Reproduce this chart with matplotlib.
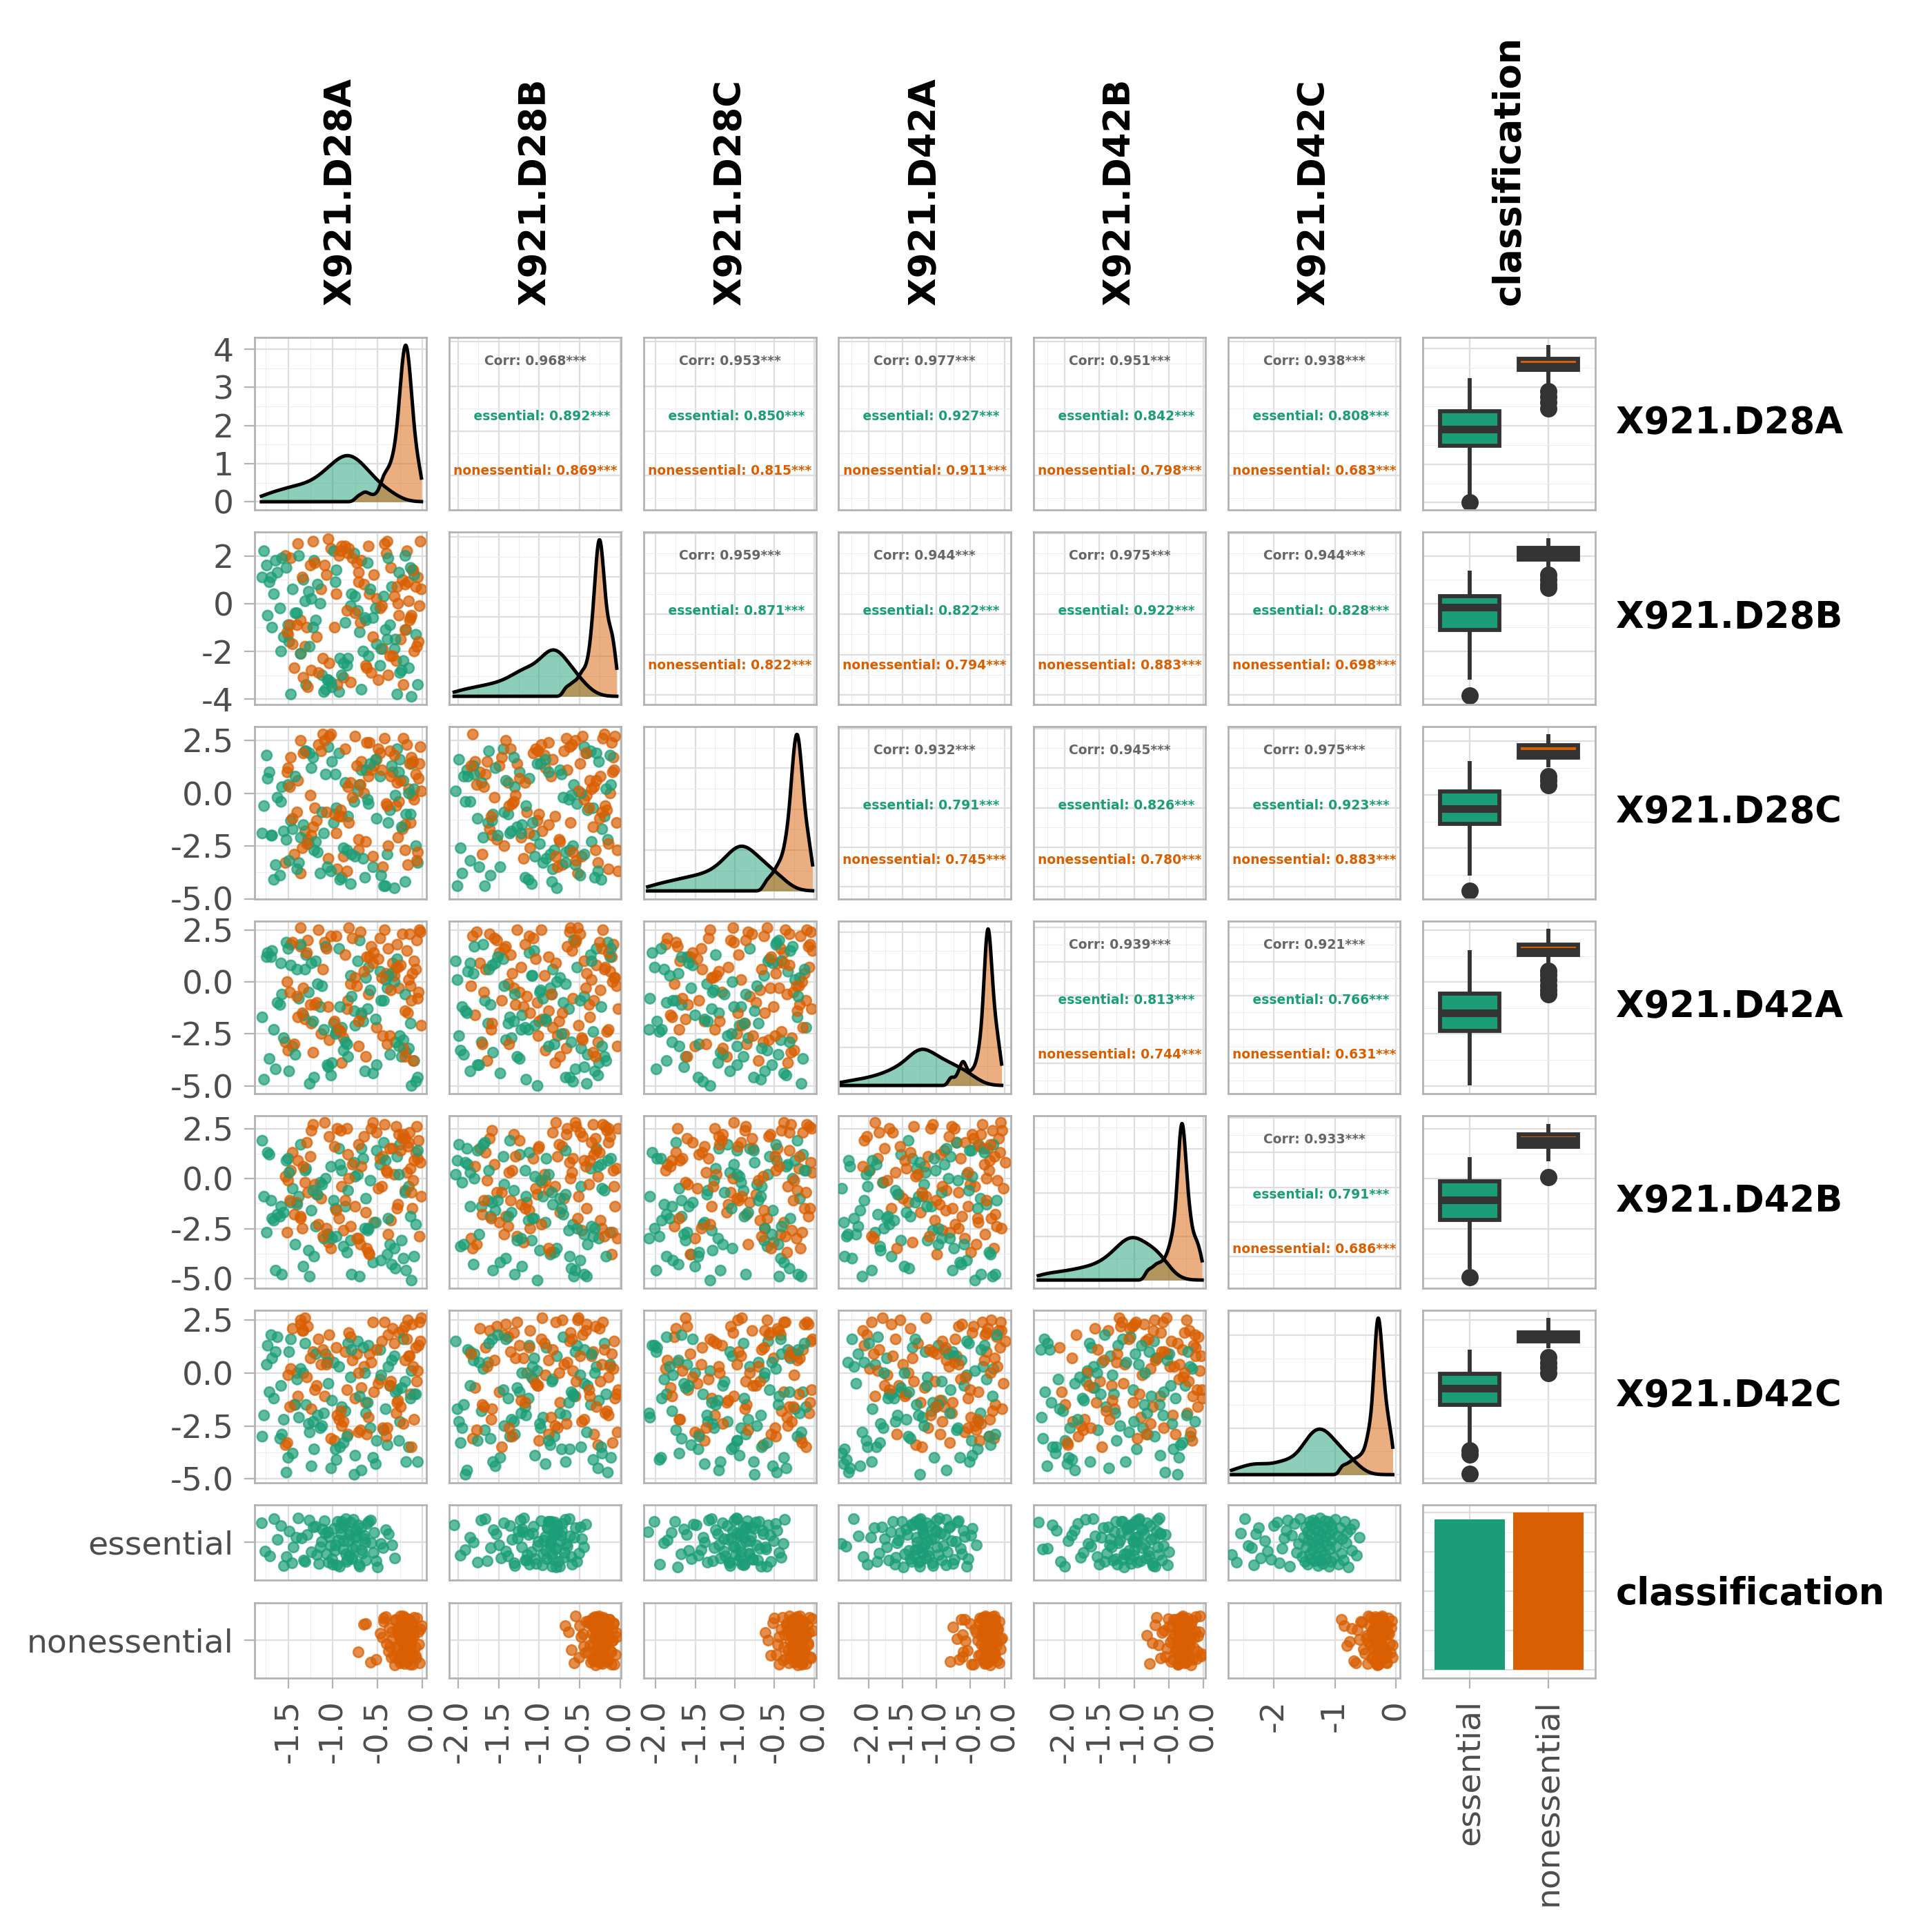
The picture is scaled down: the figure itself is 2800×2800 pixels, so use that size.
import numpy as np
import matplotlib
matplotlib.use("Agg")
import matplotlib.pyplot as plt

plt.rcParams["axes.unicode_minus"] = False
plt.rcParams["font.family"] = ["DejaVu Sans"]

variables = ["X921.D28A", "X921.D28B", "X921.D28C", "X921.D42A", "X921.D42B", "X921.D42C"]
classes = ["essential", "nonessential"]
class_colors = ["#1B9E77", "#D95F02"]

# ---- scatter values (lower triangle): x values per column variable ----
sx_d28a_ess = [-1.21, -0.47, -1.66, -0.93, -0.18, -1.38, -0.72, -1.05, -1.79, -0.31,
               -0.86, -1.52, -0.12, -1.14, -0.60, -1.71, -0.39, -0.99, -1.30, -0.55,
               -1.62, -0.25, -0.80, -1.45, -1.08, -0.07, -1.57, -0.66, -1.24, -0.36,
               -0.90, -1.74, -0.51, -1.17, -0.21, -1.40, -0.76, -1.01, -1.68, -0.43,
               -0.15, -1.33, -0.63, -1.49, -0.96, -0.28, -1.27, -0.83, -1.59, -0.70,
               -1.55, -0.34, -1.02, -0.61, -1.73, -0.88, -0.19, -1.26, -1.47, -0.75,
               -0.09, -1.36, -0.52, -1.12, -1.64, -0.41, -0.97, -0.23, -1.19, -0.68,
               -1.77, -0.46, -1.31, -0.84, -0.13, -1.50, -1.06, -0.58, -0.30, -1.69,
               -0.92, -1.42, -0.38, -0.05, -1.22, -0.79, -1.58, -0.26, -1.10, -0.64]
sx_d28a_non = [-0.42, -1.18, -0.07, -0.88, -1.47, -0.26, -0.63, -1.02, -0.15, -1.31,
               -0.54, -0.95, -0.02, -1.40, -0.71, -0.33, -1.09, -0.19, -0.80, -1.53,
               -0.47, -0.11, -1.24, -0.59, -0.90, -0.04, -1.36, -0.68, -0.29, -1.13,
               -0.38, -0.83, -1.50, -0.22, -0.75, -1.05, -0.09, -0.51, -1.28, -0.35,
               -0.98, -0.17, -1.43, -0.65, -0.03, -1.20, -0.44, -0.86, -0.13, -0.57,
               -1.34, -0.24,
               -0.31, -0.91, -1.36, -0.05, -0.69, -1.22, -0.49, -0.16, -1.51, -0.78,
               -1.04, -0.27, -0.60, -1.45, -0.10, -0.84, -1.16, -0.40, -0.01, -1.29,
               -0.73, -0.21, -0.96, -1.39, -0.55, -0.12, -1.07, -0.36, -0.82, -1.48,
               -0.19, -0.62, -1.25, -0.45, -0.06, -0.93, -1.33, -0.28, -0.71, -1.11,
               -0.39, -0.14]
sx_d28b_ess = [-0.62, -1.88, -1.13, -0.29, -1.57, -0.95, -2.03, -0.44, -1.36, -0.78,
               -1.71, -0.15, -1.02, -1.95, -0.53, -1.24, -0.86, -1.63, -0.36, -1.48,
               -0.70, -1.99, -1.09, -0.22, -1.80, -0.58, -1.30, -0.91, -1.54, -0.40,
               -1.17, -0.12, -1.76, -0.67, -1.41, -0.83, -1.91, -0.26, -1.06, -1.67,
               -0.48, -1.21, -0.74, -1.85, -0.33, -1.44, -0.99, -0.19, -1.60, -0.57,
               -1.34, -1.81, -0.27, -0.63, -1.12, -1.97, -0.84, -0.41, -1.58, -1.05,
               -0.17, -1.69, -0.92, -1.43, -0.55, -2.01, -0.72, -1.27, -0.35, -1.89,
               -1.16, -0.49, -1.62, -0.81, -1.38, -0.11, -1.74, -0.98, -0.60, -1.51,
               -0.23, -1.93, -1.08, -0.67, -1.31, -0.44, -1.85, -0.88, -1.22, -0.31]
sx_d28b_non = [-0.21, -1.02, -1.66, -0.47, -0.08, -1.31, -0.74, -1.82, -0.35, -0.96,
               -1.49, -0.14, -0.62, -1.15, -0.03, -1.73, -0.55, -0.88, -1.38, -0.27,
               -1.07, -0.41, -1.58, -0.10, -0.80, -1.24, -0.52, -1.79, -0.18, -0.69,
               -1.43, -0.32, -0.92, -1.61, -0.06, -1.19, -0.44, -0.83, -1.52, -0.24,
               -1.00, -0.59, -1.70, -0.12, -1.27, -0.38, -0.77, -1.35, -0.04, -0.65,
               -1.11, -0.29,
               -0.93, -0.16, -1.41, -0.58, -1.77, -0.33, -1.04, -0.71, -0.09, -1.55,
               -0.46, -1.22, -0.85, -0.25, -1.64, -0.02, -0.97, -1.33, -0.51, -0.14,
               -1.84, -0.66, -1.12, -0.37, -0.79, -1.46, -0.22, -1.01, -0.61, -1.68,
               -0.30, -0.88, -1.29, -0.07, -0.54, -1.59, -0.42, -1.17, -0.75, -0.19,
               -1.37, -0.49]
sx_d28c_ess = [-1.46, -0.33, -1.92, -0.81, -1.18, -2.07, -0.58, -1.64, -0.21, -1.03,
               -1.79, -0.47, -1.31, -0.92, -2.01, -0.14, -1.55, -0.70, -1.24, -0.38,
               -1.86, -1.09, -0.63, -1.70, -0.27, -1.40, -0.86, -1.98, -0.52, -1.15,
               -0.10, -1.60, -0.97, -1.35, -0.42, -1.89, -0.75, -1.21, -0.30, -1.74,
               -0.66, -1.50, -0.18, -1.06, -1.95, -0.56, -1.28, -0.89, -1.67, -0.44,
               -0.83, -1.71, -0.35, -1.29, -2.04, -0.59, -1.13, -0.16, -1.53, -0.94,
               -1.86, -0.48, -1.38, -0.72, -1.99, -0.24, -1.04, -1.62, -0.41, -1.20,
               -0.67, -1.78, -0.12, -1.45, -0.88, -1.93, -0.53, -1.26, -0.31, -1.67,
               -1.01, -0.45, -1.82, -0.76, -1.34, -0.20, -1.58, -0.97, -2.08, -0.62]
sx_d28c_non = [-0.09, -0.73, -1.41, -0.28, -1.87, -0.55, -1.10, -0.17, -0.92, -1.62,
               -0.38, -1.25, -0.04, -0.81, -1.50, -0.46, -1.01, -0.21, -1.76, -0.64,
               -1.33, -0.12, -0.87, -1.56, -0.33, -1.16, -0.59, -1.81, -0.06, -0.97,
               -0.42, -1.45, -0.25, -0.78, -1.29, -0.51, -1.69, -0.14, -1.05, -0.68,
               -1.38, -0.02, -0.85, -1.20, -0.36, -1.59, -0.49, -0.95, -0.19, -1.72,
               -0.62, -0.31,
               -1.23, -0.41, -0.07, -1.66, -0.83, -0.29, -1.47, -0.96, -0.15, -1.85,
               -0.57, -1.08, -0.34, -1.74, -0.70, -0.03, -1.31, -0.48, -0.91, -1.53,
               -0.22, -1.15, -0.63, -1.79, -0.38, -0.10, -1.42, -0.77, -1.02, -0.26,
               -1.60, -0.54, -0.18, -1.27, -0.86, -1.70, -0.44, -0.05, -1.19, -0.66,
               -1.36, -0.31]
sx_d42a_ess = [-2.35, -0.88, -1.62, -0.31, -1.95, -1.20, -0.55, -2.18, -1.41, -0.74,
               -1.07, -2.29, -0.43, -1.78, -0.97, -1.52, -0.20, -2.06, -1.29, -0.65,
               -1.86, -0.38, -1.13, -2.39, -0.82, -1.69, -0.13, -1.35, -2.12, -0.59,
               -1.01, -1.90, -0.48, -1.57, -2.24, -0.26, -1.24, -0.92, -1.73, -0.70,
               -2.01, -1.47, -0.35, -1.16, -2.32, -0.79, -1.82, -0.52, -1.38, -0.17,
               -1.44, -0.63, -2.27, -1.05, -0.29, -1.83, -0.92, -2.09, -1.31, -0.47,
               -1.66, -0.16, -2.36, -1.18, -0.76, -1.94, -0.39, -1.52, -2.15, -0.85,
               -1.26, -0.55, -1.99, -0.22, -1.71, -1.03, -2.30, -0.68, -1.40, -0.11,
               -1.88, -0.97, -2.21, -0.51, -1.60, -0.34, -1.14, -2.03, -0.80, -1.77]
sx_d42a_non = [-0.32, -1.55, -0.06, -0.91, -1.98, -0.47, -1.23, -0.15, -0.70, -1.79,
               -0.38, -1.08, 0.02, -1.41, -0.58, -0.24, -1.90, -0.85, -0.11, -1.30,
               -0.64, -1.66, -0.03, -0.99, -0.43, -2.06, -0.19, -1.17, -0.77, -1.49,
               -0.28, -0.94, -1.72, -0.08, -0.53, -1.35, -0.21, -1.84, -0.67, -1.02,
               -0.36, -1.60, -0.13, -0.81, -1.95, -0.50, -1.12, -0.26, -1.44, -0.73,
               -0.04, -0.88,
               -1.27, -0.17, -0.62, -1.86, -0.41, -1.05, -0.01, -1.53, -0.80, -0.29,
               -2.02, -0.95, -0.49, -1.38, -0.10, -1.69, -0.72, -0.22, -1.15, -0.57,
               -1.92, -0.34, -0.86, -1.46, -0.05, -1.21, -0.67, -1.76, -0.26, -1.00,
               -0.45, -1.58, -0.14, -0.91, -1.33, -0.39, -2.08, -0.76, -0.20, -1.10,
               -0.53, -1.64]
sx_d42b_ess = [-0.96, -2.21, -0.40, -1.58, -1.12, -2.33, -0.71, -1.85, -0.19, -1.34,
               -2.02, -0.55, -1.67, -0.87, -1.23, -2.28, -0.33, -1.46, -0.63, -1.94,
               -1.05, -0.12, -1.78, -2.13, -0.49, -1.29, -0.80, -1.61, -2.25, -0.26,
               -1.40, -0.93, -1.99, -0.58, -1.16, -2.09, -0.37, -1.72, -0.68, -1.52,
               -2.17, -0.84, -1.27, -0.22, -1.89, -1.01, -0.45, -1.64, -2.31, -0.75,
               -1.81, -0.52, -1.36, -2.19, -0.89, -0.30, -1.69, -1.07, -2.29, -0.62,
               -1.48, -0.16, -1.96, -1.20, -0.78, -2.07, -0.43, -1.57, -0.98, -1.85,
               -0.24, -1.31, -2.24, -0.70, -1.74, -0.35, -1.11, -1.92, -0.57, -1.42,
               -2.12, -0.85, -0.19, -1.63, -1.00, -2.34, -0.47, -1.25, -0.81, -1.53]
sx_d42b_non = [-0.58, -1.32, -0.11, -1.88, -0.76, -0.27, -1.54, -0.95, -0.03, -1.21,
               -2.04, -0.44, -0.83, -1.67, -0.18, -1.06, -0.62, -1.43, -0.07, -1.95,
               -0.35, -0.99, -1.28, -0.52, -1.76, -0.14, -0.70, -1.59, -0.23, -1.13,
               -1.83, -0.40, -0.88, -1.37, -0.01, -0.66, -1.71, -0.30, -1.02, -1.49,
               -0.16, -0.79, -1.99, -0.48, -1.17, -0.09, -1.62, -0.56, -0.92, -1.25,
               -0.20, -0.73,
               -0.37, -1.40, -0.85, -0.05, -1.73, -0.60, -1.15, -0.24, -1.96, -0.69,
               -0.12, -1.31, -0.90, -1.56, -0.42, -0.02, -1.07, -1.80, -0.53, -0.29,
               -1.24, -0.76, -2.07, -0.15, -0.97, -1.46, -0.34, -1.65, -0.61, -0.08,
               -1.19, -0.82, -1.89, -0.46, -0.21, -1.35, -0.72, -1.01, -0.27, -1.52,
               -0.57, -0.11]

# ---- scatter values: y values per row variable ----
sy_d28b_ess = [1.8, -2.6, 0.4, -3.7, -1.1, 2.0, -0.3, -3.2, 1.1, -1.9,
               -0.8, 1.5, -3.9, 0.0, -2.2, 0.9, -1.5, 2.2, -3.4, -0.6,
               1.3, -2.9, -0.1, 0.6, -3.6, -1.3, 1.9, -2.0, 0.2, -0.9,
               -3.0, 1.6, -1.7, 0.8, -2.4, -0.4, 2.1, -3.5, -1.0, 0.3,
               -2.7, 1.0, -0.7, -1.6, 1.4, -3.8, 0.5, -2.3, -0.2, -1.2,
               -1.4, 0.7, -3.3, 1.7, -0.5, -2.5, 2.0, -1.8, -3.8, 0.3,
               1.2, -2.1, -0.2, -3.0, 1.8, -1.1, 0.9, -2.8, -0.7, -3.6,
               2.2, -1.9, 0.1, -2.6, 1.5, -0.9, -3.2, 0.6, -1.5, 1.1,
               -2.3, -0.4, 1.9, -3.4, -1.0, 0.4, -2.0, 1.3, -3.7, -0.6]
sy_d28b_non = [2.5, -1.4, 0.7, -3.1, 1.9, -0.5, -2.6, 2.3, 0.1, -1.8,
               1.2, -3.4, 2.6, -0.9, 0.9, -2.2, 1.6, -1.1, -3.3, 2.0,
               -0.2, 1.4, -2.8, 0.4, 2.4, -1.6, -0.7, 1.8, -2.4, 0.6,
               -3.0, 2.1, -1.3, 1.0, -0.4, 2.7, -2.0, 0.2, -3.5, 1.5,
               -1.0, 2.2, -2.7, 0.8, -0.1, 1.7, -1.9, 2.4, -0.6, -2.9,
               1.1, -1.5,
               0.3, 2.2, -2.1, 1.1, -0.8, 2.6, -3.2, 0.9, -1.2, 1.9,
               -2.5, 0.0, 2.4, -1.7, 1.4, -0.3, -2.9, 2.1, 0.6, -1.0,
               1.7, -3.4, 0.4, 2.5, -1.4, -0.5, 1.2, -2.2, 2.3, -0.9,
               0.8, -2.7, 1.6, -0.1, -1.8, 2.0, -3.1, 0.7, 1.3, -2.3,
               2.6, -0.7]
sy_d28c_ess = [-2.7, 0.8, -4.1, 1.9, -1.0, -3.3, 0.1, 2.2, -1.9, -4.5,
               0.5, -2.2, 1.4, -3.8, -0.5, 1.0, -2.9, -1.4, 2.0, -3.5,
               -0.2, 1.6, -4.3, -1.7, 0.9, -2.5, 0.3, -3.1, 1.2, -0.8,
               -4.0, 1.8, -1.2, -2.8, 0.6, -3.6, -0.4, 1.5, -2.0, -4.4,
               0.0, -1.5, 1.1, -3.2, -0.7, 2.1, -2.4, -1.1, -3.9, 0.4,
               -1.8, 1.3, -3.7, -0.3, 0.7, -2.6, -4.2, 1.9, -1.3, -3.0,
               0.2, -2.1, 1.6, -0.9, -3.4, -4.4, 0.9, -1.6, -2.3, 1.1,
               -0.6, -3.9, 2.0, -2.7, -1.0, 0.4, -3.5, 1.4, -0.1, -2.0,
               -4.1, 0.8, -1.4, -3.3, 1.7, -2.9, -0.4, 1.0, -1.9, -4.0]
sy_d28c_non = [2.6, -1.3, 0.9, -3.0, 1.7, -0.4, -2.3, 2.8, 0.2, -1.8,
               1.3, -3.6, 2.2, -0.9, -2.7, 1.0, 2.5, -1.5, 0.5, -3.3,
               1.9, -0.1, -2.0, 2.4, -1.1, 0.7, -3.8, 1.5, -0.6, 2.0,
               -2.5, 0.3, 1.2, -1.7, 2.7, -3.1, -0.3, 1.6, -2.2, 0.8,
               -1.0, 2.3, -2.9, 0.0, 1.4, -0.7, -3.5, 2.1, -1.4, 1.1,
               -2.6, 0.6,
               1.8, -0.8, 2.5, -2.8, 0.4, -1.6, 2.1, -3.4, 1.0, -0.2,
               2.7, -2.1, 0.8, -1.2, 1.5, -3.7, 2.3, -0.5, 0.1, -2.4,
               1.3, 2.6, -1.9, 0.6, -3.0, 1.7, -0.9, 2.0, -1.4, 0.3,
               -2.7, 2.4, -0.1, 1.1, -3.2, -1.1, 1.9, 0.5, -2.2, 2.8,
               -0.6, 1.4]
sy_d42a_ess = [-4.6, 0.5, -2.3, 1.6, -3.4, -0.8, 1.0, -4.1, -1.7, 0.0,
               -2.9, 1.9, -5.0, -1.2, 0.7, -3.7, -0.3, -2.0, 1.3, -4.4,
               -1.0, -2.6, 0.3, -3.1, 1.7, -4.8, -0.6, -1.9, 0.9, -3.5,
               -2.2, 1.2, -4.0, -0.1, -2.8, 0.6, -1.4, -3.9, 1.5, -0.9,
               -3.2, -1.6, 0.2, -4.3, -2.4, 1.1, -0.5, -3.6, -1.1, 2.0,
               -2.7, 0.4, -4.5, -1.3, 1.4, -3.3, -0.6, -4.9, 0.8, -2.1,
               -3.8, 1.8, -1.8, -0.2, -4.2, 0.1, -2.5, -3.6, 1.0, -1.5,
               -4.7, -0.9, 0.6, -3.0, -2.0, 1.6, -4.0, -0.4, -2.9, 1.2,
               -1.2, -3.5, 0.3, -4.6, -1.9, -0.7, 0.9, -3.1, -2.3, -4.3]
sy_d42a_non = [2.5, -1.0, 0.6, -2.7, 1.8, -0.3, -3.6, 2.2, 0.1, -1.8,
               1.4, -2.3, 2.4, -0.7, -3.1, 0.9, 1.9, -1.4, -0.1, -2.9,
               2.1, 0.4, -2.0, 1.2, -3.9, -0.5, 2.6, -1.6, 0.7, -2.5,
               1.6, -0.9, -3.3, 2.3, 0.2, -1.2, 1.0, -2.2, 2.0, -0.4,
               -1.9, 1.5, -3.0, 0.5, 2.5, -1.1, -2.6, 1.3, -0.2, 1.7,
               -1.5, 0.8,
               0.3, -2.4, 1.7, -0.8, 2.4, -3.4, 1.1, -1.5, 0.0, 2.1,
               -2.8, 0.7, -0.6, 1.9, -3.8, -1.3, 2.5, 0.4, -2.1, 1.4,
               -0.2, -3.2, 2.2, -1.7, 0.9, -0.9, 1.6, -2.6, 2.6, -0.5,
               -3.6, 1.2, -1.1, 0.2, 2.0, -2.3, -0.3, 1.8, -1.9, 0.6,
               -3.0, 2.3]
sy_d42b_ess = [-3.9, 0.7, -2.1, 1.5, -4.6, -0.9, 0.2, -2.8, 1.9, -3.5,
               -1.4, 0.9, -5.1, -0.2, -2.5, 1.2, -3.8, -1.1, 0.5, -4.2,
               -1.8, 1.7, -3.1, -0.5, 0.0, -2.3, -4.8, 1.0, -1.6, -3.3,
               0.4, -2.7, 1.4, -0.8, -4.0, -1.3, 0.8, -3.0, -2.0, 1.8,
               -0.4, -4.4, -1.0, 0.3, -2.9, 1.1, -3.6, -0.6, -1.9, -4.9,
               -1.7, -4.3, 0.6, -2.6, 1.3, -3.4, -0.7, -4.9, -1.2, 0.1,
               -3.9, 1.7, -2.2, -0.3, -4.6, 0.9, -1.5, -3.1, -2.4, 1.5,
               -0.9, -4.1, 0.4, -3.7, -1.9, 1.0, -2.8, -0.1, -4.5, -1.1,
               0.7, -3.3, -2.0, 1.4, -0.6, -4.8, -1.4, 0.2, -3.0, -2.5]
sy_d42b_non = [2.7, -0.8, 1.3, -2.6, 0.4, 2.2, -1.7, -3.5, 1.8, -0.2,
               -2.2, 2.5, 0.8, -1.2, -3.0, 1.5, 2.8, -0.6, -2.4, 0.1,
               1.0, -1.5, 2.4, -3.8, -0.4, 1.9, -2.0, 0.6, 2.6, -1.0,
               -2.8, 1.2, -0.1, 2.0, -1.4, -3.2, 0.9, 2.3, -0.7, -2.1,
               1.6, 0.3, -1.8, 2.1, -2.9, -0.3, 1.1, -1.1, 0.5, 2.5,
               -2.5, 1.4,
               0.2, 2.4, -1.9, 1.0, -3.3, 2.7, -0.5, 1.6, -2.7, 0.7,
               2.1, -1.3, -3.7, 1.3, -0.1, 2.5, -2.3, 0.4, -0.9, 1.8,
               -3.0, 2.2, -1.6, 0.9, 2.8, -0.7, -2.5, 1.5, 0.0, -1.1,
               2.0, -3.5, 1.1, -0.4, 2.6, -2.0, 0.6, -1.5, 1.7, -2.9,
               0.3, 2.3]
sy_d42c_ess = [-3.6, 1.1, -1.2, 0.3, -4.2, -2.1, 1.5, -0.5, -3.0, 0.8,
               -1.8, -4.7, 0.1, -2.6, 1.3, -0.9, -3.4, 0.5, -1.5, -4.0,
               1.7, -2.3, -0.2, -3.8, 0.9, -1.0, -2.9, 1.2, -4.4, -0.6,
               -1.6, 0.4, -3.2, -2.0, 1.6, -0.3, -4.8, -1.3, 0.7, -2.7,
               -3.5, 0.0, -1.9, 1.0, -4.1, -0.8, -2.4, 1.4, -3.1, -1.1,
               -2.2, 0.6, -4.5, -1.4, 1.3, -3.3, -0.4, -2.8, 1.6, -3.9,
               -1.0, 0.2, -4.3, -2.5, 1.0, -1.7, -3.6, -0.7, 0.9, -4.6,
               -2.0, -0.1, 1.4, -3.0, -1.2, -4.0, 0.5, -2.6, -0.9, 1.8,
               -3.5, -1.5, 0.3, -4.2, -2.3, 1.1, -0.6, -3.2, -1.9, 0.0]
sy_d42c_non = [2.4, -0.6, 1.2, -2.3, 0.2, 1.9, -1.4, -3.1, 0.8, 2.6,
               -0.9, -2.0, 1.5, 0.0, -2.8, 2.1, -1.1, 0.6, 1.7, -3.4,
               -0.3, 2.3, -1.7, 0.9, -2.5, 1.3, 2.5, -0.7, -1.9, 0.4,
               1.8, -2.9, -0.1, 2.0, -1.2, 0.7, -2.2, 1.1, 2.2, -0.4,
               -3.2, 1.6, -1.5, 0.3, 2.4, -0.8, -2.6, 1.0, -1.0, 0.5,
               2.0, -1.6,
               1.4, -1.8, 2.3, 0.1, -2.7, 1.0, -0.5, 2.5, -3.3, 0.6,
               1.8, -1.3, -2.1, 2.1, 0.3, -0.8, 1.6, -3.0, 2.6, -0.2,
               0.9, -2.4, 1.2, -1.1, 2.4, -3.5, 0.4, -0.6, 1.9, -1.6,
               2.2, -2.9, 0.7, 1.5, -0.4, -2.2, 2.0, -1.4, 0.0, 1.1,
               -2.6, 0.8]

# ---- per-class values (diagonal densities and bottom facet rows) ----
fx_d28a_ess = [-1.80, -1.71, -1.62, -1.55, -1.49, -1.44, -1.39, -1.33, -1.29, -1.24,
               -1.20, -1.16, -1.13, -1.10, -1.07, -1.04, -1.01, -0.99, -0.97, -0.95,
               -0.93, -0.91, -0.89, -0.87, -0.85, -0.83, -0.81, -0.79, -0.77, -0.75,
               -0.73, -0.71, -0.69, -0.67, -0.65, -0.63, -0.60, -0.57, -0.54, -0.50,
               -1.12, -0.98, -0.90, -0.82, -0.76, -1.05, -0.86, -0.44, -0.38, -0.31,
               -1.76, -1.58, -1.46, -1.35, -1.27, -1.18, -1.09, -1.03, -0.96, -0.92,
               -0.88, -0.84, -0.80, -0.78, -0.74, -0.70, -0.66, -0.62, -0.55, -0.46,
               -1.66, -1.52, -1.41, -1.31, -1.22, -1.14, -1.06, -1.00, -0.94, -0.90,
               -0.86, -0.82, -0.79, -0.72, -0.68, -0.64, -0.58, -0.52, -0.41, -0.34]
fx_d28a_non = [-0.72, -0.63, -0.58, -0.47, -0.43, -0.40, -0.37, -0.35, -0.33, -0.31,
               -0.30, -0.29, -0.28, -0.27, -0.26, -0.25, -0.24, -0.24, -0.23, -0.22,
               -0.22, -0.21, -0.21, -0.20, -0.20, -0.19, -0.19, -0.18, -0.18, -0.17,
               -0.17, -0.16, -0.16, -0.15, -0.15, -0.14, -0.14, -0.13, -0.12, -0.12,
               -0.11, -0.10, -0.09, -0.08, -0.07, -0.05, -0.03, -0.01, -0.26, -0.20,
               -0.18, -0.13,
               -0.66, -0.52, -0.45, -0.41, -0.38, -0.34, -0.32, -0.30, -0.28, -0.27,
               -0.25, -0.24, -0.23, -0.22, -0.21, -0.21, -0.20, -0.19, -0.19, -0.18,
               -0.17, -0.17, -0.16, -0.15, -0.14, -0.13, -0.12, -0.11, -0.10, -0.08,
               -0.06, -0.04, -0.02, -0.23, -0.20, -0.18, -0.16, -0.22, -0.25, -0.14,
               -0.36, -0.43]
fx_d28b_ess = [-2.05, -1.92, -1.81, -1.72, -1.64, -1.57, -1.50, -1.44, -1.39, -1.34,
               -1.30, -1.26, -1.22, -1.19, -1.16, -1.13, -1.10, -1.07, -1.04, -1.01,
               -0.98, -0.95, -0.93, -0.91, -0.89, -0.87, -0.85, -0.84, -0.82, -0.80,
               -0.78, -0.76, -0.74, -0.72, -0.70, -0.68, -0.65, -0.62, -0.59, -0.55,
               -0.51, -0.47, -1.17, -0.88, -0.86, -0.83, -0.79, -1.21, -0.92, -0.42,
               -1.98, -1.86, -1.76, -1.67, -1.60, -1.53, -1.47, -1.41, -1.36, -1.31,
               -1.27, -1.23, -1.15, -1.08, -1.02, -0.96, -0.90, -0.86, -0.83, -0.81,
               -0.79, -0.77, -0.75, -0.73, -0.71, -0.69, -0.66, -0.63, -0.60, -0.57,
               -0.53, -0.49, -0.45, -1.20, -1.12, -0.94, -0.88, -0.84, -0.80, -1.05]
fx_d28b_non = [-0.68, -0.60, -0.55, -0.51, -0.48, -0.45, -0.42, -0.40, -0.38, -0.36,
               -0.35, -0.34, -0.33, -0.32, -0.31, -0.30, -0.30, -0.29, -0.28, -0.28,
               -0.27, -0.27, -0.26, -0.26, -0.25, -0.25, -0.24, -0.24, -0.23, -0.23,
               -0.22, -0.22, -0.21, -0.20, -0.20, -0.19, -0.18, -0.17, -0.16, -0.15,
               -0.14, -0.13, -0.12, -0.11, -0.10, -0.09, -0.08, -0.06, -0.04, -0.29,
               -0.26, -0.21,
               -0.64, -0.57, -0.50, -0.46, -0.43, -0.39, -0.37, -0.35, -0.33, -0.32,
               -0.31, -0.30, -0.29, -0.28, -0.27, -0.27, -0.26, -0.25, -0.25, -0.24,
               -0.24, -0.23, -0.22, -0.21, -0.20, -0.19, -0.18, -0.17, -0.16, -0.14,
               -0.13, -0.11, -0.10, -0.08, -0.07, -0.05, -0.28, -0.26, -0.23, -0.30,
               -0.34, -0.21]
fx_d28c_ess = [-2.10, -1.95, -1.85, -1.76, -1.68, -1.61, -1.55, -1.49, -1.43, -1.38,
               -1.33, -1.28, -1.24, -1.20, -1.16, -1.12, -1.09, -1.06, -1.03, -1.00,
               -0.98, -0.96, -0.94, -0.92, -0.90, -0.88, -0.86, -0.84, -0.82, -0.80,
               -0.78, -0.76, -0.73, -0.70, -0.67, -0.64, -0.61, -0.58, -0.55, -0.51,
               -0.47, -0.42, -0.37, -1.02, -0.95, -0.91, -0.87, -0.83, -1.14, -0.71,
               -2.02, -1.90, -1.80, -1.72, -1.64, -1.58, -1.52, -1.46, -1.40, -1.35,
               -1.30, -1.26, -1.22, -1.18, -1.14, -1.10, -1.07, -1.04, -1.01, -0.99,
               -0.97, -0.93, -0.89, -0.85, -0.81, -0.77, -0.74, -0.69, -0.65, -0.60,
               -0.56, -0.49, -0.44, -0.39, -0.97, -0.93, -0.89, -1.08, -0.79, -0.62]
fx_d28c_non = [-0.62, -0.55, -0.50, -0.46, -0.42, -0.39, -0.37, -0.35, -0.33, -0.31,
               -0.30, -0.29, -0.28, -0.27, -0.26, -0.25, -0.25, -0.24, -0.24, -0.23,
               -0.23, -0.22, -0.22, -0.21, -0.21, -0.20, -0.20, -0.19, -0.19, -0.18,
               -0.18, -0.17, -0.16, -0.15, -0.14, -0.13, -0.12, -0.11, -0.10, -0.09,
               -0.08, -0.07, -0.05, -0.03, -0.26, -0.22, -0.20, -0.17, -0.28, -0.15,
               -0.44, -0.32,
               -0.58, -0.52, -0.48, -0.44, -0.40, -0.38, -0.36, -0.34, -0.32, -0.30,
               -0.29, -0.28, -0.27, -0.26, -0.25, -0.24, -0.23, -0.22, -0.21, -0.20,
               -0.19, -0.18, -0.17, -0.16, -0.15, -0.14, -0.13, -0.12, -0.10, -0.08,
               -0.06, -0.04, -0.02, -0.27, -0.24, -0.22, -0.19, -0.25, -0.21, -0.30,
               -0.35, -0.16]
fx_d42a_ess = [-2.40, -2.22, -2.08, -1.97, -1.88, -1.80, -1.73, -1.67, -1.61, -1.56,
               -1.51, -1.47, -1.43, -1.39, -1.35, -1.32, -1.29, -1.26, -1.23, -1.20,
               -1.17, -1.14, -1.11, -1.08, -1.05, -1.02, -0.99, -0.96, -0.92, -0.88,
               -0.84, -0.80, -0.76, -0.72, -0.68, -0.63, -0.58, -0.53, -0.47, -0.41,
               -1.31, -1.25, -1.19, -1.28, -1.22, -1.37, -1.13, -1.00, -1.60, -0.86,
               -2.33, -2.15, -2.02, -1.92, -1.84, -1.76, -1.70, -1.64, -1.58, -1.53,
               -1.49, -1.45, -1.41, -1.37, -1.33, -1.30, -1.27, -1.24, -1.21, -1.18,
               -1.15, -1.12, -1.09, -1.06, -1.03, -1.00, -0.97, -0.94, -0.90, -0.86,
               -0.82, -0.78, -0.74, -0.70, -0.65, -0.60, -0.55, -0.49, -1.26, -1.20]
fx_d42a_non = [-0.80, -0.70, -0.64, -0.60, -0.57, -0.50, -0.45, -0.41, -0.38, -0.36,
               -0.34, -0.32, -0.31, -0.30, -0.29, -0.28, -0.28, -0.27, -0.27, -0.26,
               -0.26, -0.25, -0.25, -0.24, -0.24, -0.23, -0.23, -0.22, -0.22, -0.21,
               -0.21, -0.20, -0.19, -0.18, -0.17, -0.16, -0.15, -0.14, -0.13, -0.12,
               -0.11, -0.10, -0.08, -0.06, -0.04, -0.29, -0.25, -0.23, -0.20, -0.62,
               -0.33, -0.18,
               -0.76, -0.67, -0.62, -0.58, -0.54, -0.48, -0.43, -0.39, -0.37, -0.35,
               -0.33, -0.31, -0.30, -0.29, -0.28, -0.27, -0.26, -0.25, -0.24, -0.23,
               -0.22, -0.21, -0.20, -0.19, -0.18, -0.17, -0.16, -0.15, -0.14, -0.12,
               -0.10, -0.08, -0.06, -0.27, -0.25, -0.23, -0.22, -0.26, -0.24, -0.21,
               -0.28, -0.20]
fx_d42b_ess = [-2.38, -2.25, -2.12, -2.00, -1.90, -1.81, -1.73, -1.66, -1.59, -1.53,
               -1.47, -1.42, -1.37, -1.32, -1.28, -1.24, -1.20, -1.16, -1.12, -1.09,
               -1.06, -1.03, -1.00, -0.97, -0.94, -0.91, -0.88, -0.85, -0.82, -0.79,
               -0.76, -0.73, -0.68, -0.66, -0.64, -0.60, -0.55, -0.50, -1.10, -1.05,
               -1.01, -0.98, -1.14, -0.95, -1.26, -0.90, -1.35, -1.18, -0.70, -0.62,
               -2.32, -2.18, -2.06, -1.95, -1.86, -1.77, -1.70, -1.62, -1.56, -1.50,
               -1.44, -1.39, -1.34, -1.30, -1.26, -1.22, -1.18, -1.14, -1.11, -1.08,
               -1.04, -1.01, -0.99, -0.96, -0.93, -0.89, -0.86, -0.83, -0.80, -0.77,
               -0.74, -0.71, -0.67, -0.65, -0.63, -0.58, -0.52, -1.07, -1.02, -1.16]
fx_d42b_non = [-0.82, -0.74, -0.68, -0.62, -0.57, -0.53, -0.50, -0.47, -0.45, -0.43,
               -0.41, -0.39, -0.38, -0.37, -0.36, -0.35, -0.34, -0.33, -0.33, -0.32,
               -0.32, -0.31, -0.31, -0.30, -0.30, -0.29, -0.29, -0.28, -0.27, -0.26,
               -0.25, -0.24, -0.23, -0.22, -0.21, -0.20, -0.19, -0.18, -0.16, -0.14,
               -0.12, -0.10, -0.08, -0.05, -0.02, -0.34, -0.31, -0.28, -0.36, -0.26,
               -0.40, -0.22,
               -0.78, -0.70, -0.65, -0.60, -0.55, -0.51, -0.48, -0.46, -0.44, -0.42,
               -0.40, -0.38, -0.37, -0.36, -0.35, -0.34, -0.33, -0.32, -0.31, -0.30,
               -0.29, -0.28, -0.27, -0.26, -0.25, -0.24, -0.22, -0.20, -0.18, -0.16,
               -0.13, -0.11, -0.09, -0.06, -0.03, -0.33, -0.31, -0.29, -0.35, -0.30,
               -0.27, -0.32]
fx_d42c_ess = [-2.70, -2.55, -2.42, -2.33, -2.26, -2.15, -2.05, -1.95, -1.87, -1.80,
               -1.75, -1.71, -1.67, -1.63, -1.60, -1.57, -1.54, -1.52, -1.50, -1.48,
               -1.47, -1.45, -1.45, -1.44, -1.42, -1.42, -1.40, -1.39, -1.39, -1.37,
               -1.36, -1.36, -1.34, -1.33, -1.33, -1.31, -1.30, -1.28, -1.28, -1.27,
               -1.26, -1.25, -1.25, -1.23, -1.22, -1.20, -1.20, -1.19, -1.17, -1.17,
               -1.16, -1.14, -1.14, -1.13, -1.11, -1.10, -1.09, -1.09, -1.07, -1.06,
               -1.06, -1.04, -1.02, -1.00, -0.98, -0.96, -0.94, -0.92, -0.90, -0.88,
               -0.86, -0.84, -0.82, -0.80, -0.78, -0.75, -0.72, -0.69, -0.65, -0.60,
               -2.62, -2.48, -2.37, -2.30, -2.22, -2.11, -2.00, -1.91, -1.84, -1.78]
fx_d42c_non = [-0.90, -0.80, -0.72, -0.66, -0.60, -0.55, -0.51, -0.47, -0.44, -0.42,
               -0.40, -0.38, -0.36, -0.35, -0.34, -0.33, -0.32, -0.31, -0.31, -0.30,
               -0.30, -0.29, -0.29, -0.28, -0.28, -0.27, -0.27, -0.26, -0.25, -0.24,
               -0.23, -0.22, -0.21, -0.20, -0.19, -0.18, -0.17, -0.16, -0.14, -0.12,
               -0.10, -0.08, -0.06, -0.33, -0.30, -0.27, -0.25, -0.37, -0.22, -0.32,
               -0.45, -0.15,
               -0.85, -0.76, -0.69, -0.63, -0.58, -0.53, -0.49, -0.46, -0.43, -0.41,
               -0.39, -0.37, -0.35, -0.34, -0.33, -0.32, -0.31, -0.30, -0.29, -0.28,
               -0.27, -0.26, -0.25, -0.24, -0.23, -0.22, -0.21, -0.19, -0.17, -0.15,
               -0.13, -0.11, -0.09, -0.07, -0.05, -0.31, -0.29, -0.27, -0.34, -0.24,
               -0.36, -0.20]

# vertical jitter of the facet rows
jit_ess = [0.31, -0.22, 0.05, -0.37, 0.18, -0.08, 0.39, -0.29, 0.12, -0.15,
           0.26, -0.34, 0.01, 0.35, -0.19, 0.09, -0.26, 0.22, -0.04, 0.33,
           -0.38, 0.14, -0.11, 0.28, -0.31, 0.03, 0.19, -0.24, 0.37, -0.06,
           0.10, -0.35, 0.24, -0.17, 0.06, -0.28, 0.34, -0.01, 0.16, -0.39,
           0.21, -0.13, 0.29, -0.21, 0.08, -0.32, 0.38, -0.09, 0.13, -0.25,
           -0.14, 0.27, -0.33, 0.07, 0.36, -0.20, 0.15, -0.05, -0.36, 0.23,
           0.02, -0.27, 0.32, -0.10, 0.19, -0.38, 0.11, 0.30, -0.16, -0.02,
           0.38, -0.23, 0.08, -0.31, 0.25, -0.07, 0.17, -0.35, 0.04, 0.34,
           -0.18, 0.12, -0.26, 0.28, -0.12, 0.00, 0.36, -0.30, 0.20, -0.04]
jit_non = [-0.18, 0.27, -0.35, 0.11, 0.36, -0.05, 0.20, -0.27, 0.02, -0.39,
           0.32, -0.12, 0.15, -0.30, 0.07, 0.39, -0.22, 0.24, -0.02, -0.33,
           0.17, 0.30, -0.14, 0.04, -0.37, 0.25, -0.08, 0.12, -0.26, 0.35,
           -0.03, 0.21, -0.31, 0.09, 0.33, -0.16, -0.38, 0.18, 0.00, 0.28,
           -0.23, 0.06, 0.37, -0.11, -0.29, 0.14, -0.36, 0.23, 0.10, -0.20,
           0.31, -0.07,
           0.26, -0.31, 0.05, 0.38, -0.17, 0.13, -0.25, 0.34, -0.09, 0.19,
           -0.36, 0.01, 0.29, -0.21, 0.08, -0.04, 0.37, -0.28, 0.16, -0.13,
           0.22, -0.34, 0.03, 0.33, -0.19, -0.01, 0.27, -0.38, 0.12, -0.24,
           0.36, -0.06, 0.18, -0.32, 0.09, 0.24, -0.15, 0.39, -0.27, 0.06,
           -0.10, 0.30]

# ---- boxplot summaries (right column), one entry per row variable ----
box_q1_ess = [1.48, -1.09, -1.37, -2.36, -2.05, -1.51]
box_med_ess = [1.90, -0.15, -0.65, -1.50, -1.08, -0.72]
box_q3_ess = [2.37, 0.30, 0.14, -0.56, -0.14, -0.03]
box_lo_ess = [0.21, -3.19, -3.78, -4.97, -4.52, -3.35]
box_hi_ess = [3.24, 1.37, 1.55, 1.54, 1.08, 1.11]
box_out_ess = [[0.0], [-3.85], [-4.47], [], [-4.94], [-3.65, -3.85, -4.77]]
box_q1_non = [3.44, 1.83, 1.73, 1.31, 1.61, 1.49]
box_med_non = [3.54, 2.10, 1.92, 1.48, 1.91, 1.66]
box_q3_non = [3.73, 2.34, 2.29, 1.80, 2.23, 1.93]
box_lo_non = [3.05, 1.45, 1.27, 0.90, 0.88, 1.16]
box_hi_non = [4.10, 2.73, 2.82, 2.57, 2.75, 2.62]
box_out_non = [[2.90, 2.75, 2.60, 2.45], [1.20, 1.00, 0.80, 0.65], [0.85, 0.65, 0.45],
               [0.55, 0.35, 0.10, -0.15, -0.40, -0.60], [0.08], [0.75, 0.50, 0.25, 0.00]]

# ---- correlation labels (upper triangle, row by row) ----
corr_pairs = [(0, 1), (0, 2), (0, 3), (0, 4), (0, 5), (1, 2), (1, 3), (1, 4), (1, 5),
              (2, 3), (2, 4), (2, 5), (3, 4), (3, 5), (4, 5)]
corr_all = ["0.968", "0.953", "0.977", "0.951", "0.938", "0.959", "0.944", "0.975", "0.944",
            "0.932", "0.945", "0.975", "0.939", "0.921", "0.933"]
corr_ess = ["0.892", "0.850", "0.927", "0.842", "0.808", "0.871", "0.822", "0.922", "0.828",
            "0.791", "0.826", "0.923", "0.813", "0.766", "0.791"]
corr_non = ["0.869", "0.815", "0.911", "0.798", "0.683", "0.822", "0.794", "0.883", "0.698",
            "0.745", "0.780", "0.883", "0.744", "0.631", "0.686"]

# ---- axis settings ----
col_xlim = [(-1.88, 0.046), (-2.114, 0.015), (-2.148, 0.023), (-2.44, 0.095), (-2.45, 0.03), (-2.754, 0.075)]
col_xticks = [[-1.5, -1.0, -0.5, 0.0]] + [[-2.0, -1.5, -1.0, -0.5, 0.0]] * 4 + [[-2, -1, 0]]
col_xlabels = [["-1.5", "-1.0", "-0.5", "0.0"]] + [["-2.0", "-1.5", "-1.0", "-0.5", "0.0"]] * 4 + [["-2", "-1", "0"]]
row_ylim = [(-0.18, 4.29), (-4.21, 3.0), (-4.85, 3.17), (-5.36, 2.93), (-5.47, 3.15), (-5.17, 2.97)]
row_yticks = [[0, 1, 2, 3, 4], [-4, -2, 0, 2]] + [[-5.0, -2.5, 0.0, 2.5]] * 4
row_ylabels = [["0", "1", "2", "3", "4"], ["-4", "-2", "0", "2"]] + [["-5.0", "-2.5", "0.0", "2.5"]] * 4

scat_x = {0: (sx_d28a_ess, sx_d28a_non), 1: (sx_d28b_ess, sx_d28b_non), 2: (sx_d28c_ess, sx_d28c_non),
          3: (sx_d42a_ess, sx_d42a_non), 4: (sx_d42b_ess, sx_d42b_non)}
scat_y = {1: (sy_d28b_ess, sy_d28b_non), 2: (sy_d28c_ess, sy_d28c_non), 3: (sy_d42a_ess, sy_d42a_non),
          4: (sy_d42b_ess, sy_d42b_non), 5: (sy_d42c_ess, sy_d42c_non)}
facet_vals = [(fx_d28a_ess, fx_d28a_non), (fx_d28b_ess, fx_d28b_non), (fx_d28c_ess, fx_d28c_non),
              (fx_d42a_ess, fx_d42a_non), (fx_d42b_ess, fx_d42b_non), (fx_d42c_ess, fx_d42c_non)]
jitters = [jit_ess, jit_non]

# layout in pixels of the 2800 px canvas
PX = 2800.0
col_left = [368.5 + 282.3 * j for j in range(7)]
row_top = [489 + 282 * i for i in range(6)]
CELL = 249.5
facet_top = [2181, 2323]
FACET_H = 108.5

GRID_MAJ = "#DEDEDE"
GRID_MIN = "#EDEDED"
BORDER = "#B3B3B3"
TICK_TXT = "#4D4D4D"
TICK_FS = 34
PT_SIZE = 112
PT_LW = 1.8

fig = plt.figure(figsize=(28, 28), dpi=100)


def add_panel(left, top, w, h):
    return fig.add_axes([left / PX, 1 - (top + h) / PX, w / PX, h / PX])


def minors(majors, lim):
    step = majors[1] - majors[0]
    cand = np.arange(majors[0] - step / 2, majors[-1] + step, step)
    return [c for c in cand if lim[0] <= c <= lim[1]]


def frame(ax, xlim, xt, xminor, ylim, yt, yminor):
    ax.set_xlim(xlim)
    ax.set_ylim(ylim)
    ax.set_xticks(xt)
    ax.set_yticks(yt)
    ax.set_xticks(xminor, minor=True)
    ax.set_yticks(yminor, minor=True)
    ax.set_axisbelow(True)
    ax.grid(True, which="major", color=GRID_MAJ, lw=1.6)
    ax.grid(True, which="minor", color=GRID_MIN, lw=0.8)
    for s in ax.spines.values():
        s.set_color(BORDER)
        s.set_linewidth(2.0)
    ax.tick_params(which="both", length=0, labelleft=False, labelbottom=False)


def show_y(ax, labels):
    ax.set_yticklabels(labels)
    ax.tick_params(axis="y", which="major", length=10.5, width=1.6, color=BORDER,
                   labelleft=True, labelsize=TICK_FS, labelcolor=TICK_TXT, pad=11)


def show_x(ax, labels):
    ax.set_xticklabels(labels, rotation=90)
    ax.tick_params(axis="x", which="major", length=10.5, width=1.6, color=BORDER,
                   labelbottom=True, labelsize=TICK_FS, labelcolor=TICK_TXT, pad=12)


def kde(vals, grid):
    v = np.asarray(vals, dtype=float)
    n = len(v)
    iqr = np.percentile(v, 75) - np.percentile(v, 25)
    bw = 0.9 * min(v.std(ddof=1), iqr / 1.34) * n ** -0.2
    z = (grid[:, None] - v[None, :]) / bw
    return np.exp(-0.5 * z ** 2).sum(axis=1) / (n * bw * np.sqrt(2 * np.pi))


def interleave(a, b):
    out = []
    for k in range(max(len(a), len(b))):
        if k < len(a):
            out.append((a[k], 0))
        if k < len(b):
            out.append((b[k], 1))
    return out


for i in range(6):
    for j in range(7):
        ax = add_panel(col_left[j], row_top[i], CELL, CELL)
        if j == 6:
            # boxplot of the row variable by class
            frame(ax, (0.4, 2.6), [1, 2], [], row_ylim[i], row_yticks[i],
                  minors(row_yticks[i], row_ylim[i]))
            stats = [
                dict(med=box_med_ess[i], q1=box_q1_ess[i], q3=box_q3_ess[i],
                     whislo=box_lo_ess[i], whishi=box_hi_ess[i], fliers=box_out_ess[i]),
                dict(med=box_med_non[i], q1=box_q1_non[i], q3=box_q3_non[i],
                     whislo=box_lo_non[i], whishi=box_hi_non[i], fliers=box_out_non[i]),
            ]
            bp = ax.bxp(stats, positions=[1, 2], widths=0.76, patch_artist=True, showcaps=False,
                        boxprops=dict(edgecolor="#333333", linewidth=4.2),
                        medianprops=dict(color="#333333", linewidth=8.0, solid_capstyle="butt"),
                        whiskerprops=dict(color="#333333", linewidth=4.2, solid_capstyle="butt"),
                        flierprops=dict(marker="o", markersize=17, markerfacecolor="#333333",
                                        markeredgecolor="#333333"))
            for patch, c in zip(bp["boxes"], class_colors):
                patch.set_facecolor(c)
            ax.set_xlim(0.4, 2.6)
            ax.set_ylim(row_ylim[i])
        elif i == j:
            # class densities on the diagonal
            ess_v, non_v = facet_vals[j]
            allv = np.concatenate([ess_v, non_v])
            grid = np.linspace(allv.min(), allv.max(), 600)
            dens = [kde(ess_v, grid), kde(non_v, grid)]
            m = max(d.max() for d in dens)
            ylim = (-0.05 * m, 1.05 * m)
            if i == 0:
                yt = row_yticks[0]
            else:
                step = 1.0 if m > 2.2 else 0.5
                yt = list(np.arange(0, m * 1.05, step))
            frame(ax, col_xlim[j], col_xticks[j], minors(col_xticks[j], col_xlim[j]),
                  ylim, yt, minors(yt, ylim) if len(yt) > 1 else [])
            for d, c in zip(dens, class_colors):
                ax.fill_between(grid, d, color=c, alpha=0.5, lw=0)
                ax.plot(grid, d, color="black", lw=3.6)
        elif i > j:
            frame(ax, col_xlim[j], col_xticks[j], minors(col_xticks[j], col_xlim[j]),
                  row_ylim[i], row_yticks[i], minors(row_yticks[i], row_ylim[i]))
            xs = interleave(*scat_x[j])
            ys = interleave(*scat_y[i])
            px = [p[0] for p in xs]
            py = [p[0] for p in ys]
            pc = [class_colors[p[1]] for p in xs]
            ax.scatter(px, py, s=PT_SIZE, c=pc, edgecolors=pc, linewidths=PT_LW, alpha=0.7, zorder=3)
        else:
            # correlation text panel
            frame(ax, col_xlim[j], col_xticks[j], minors(col_xticks[j], col_xlim[j]),
                  col_xlim[i], col_xticks[i], minors(col_xticks[i], col_xlim[i]))
            k = corr_pairs.index((i, j))
            ax.text(0.5, 0.863, "Corr: " + corr_all[k] + "***", transform=ax.transAxes,
                    ha="center", va="center", fontsize=13.5, fontweight="bold", color="#666666")
            ax.text(0.5, 0.54, "   essential: " + corr_ess[k] + "***", transform=ax.transAxes,
                    ha="center", va="center", fontsize=13.5, fontweight="bold", color=class_colors[0])
            ax.text(0.5, 0.223, "nonessential: " + corr_non[k] + "***", transform=ax.transAxes,
                    ha="center", va="center", fontsize=13.5, fontweight="bold", color=class_colors[1])
        if j == 0:
            show_y(ax, row_ylabels[i])

# bottom facet rows: values of each variable by class, jittered vertically
for r, cls in enumerate(classes):
    for j in range(6):
        ax = add_panel(col_left[j], facet_top[r], CELL, FACET_H)
        frame(ax, col_xlim[j], col_xticks[j], minors(col_xticks[j], col_xlim[j]),
              (0.4, 1.6), [1], [])
        vals = facet_vals[j][r]
        jy = 1 + np.roll(np.asarray(jitters[r]), 7 * j)
        ax.scatter(vals, jy, s=PT_SIZE, color=class_colors[r], edgecolors=class_colors[r],
                   linewidths=PT_LW, alpha=0.7, zorder=3)
        if j == 0:
            show_y(ax, [cls])
        if r == 1:
            show_x(ax, col_xlabels[j])

# class counts
counts = [len(facet_vals[0][0]), len(facet_vals[0][1])]
ax = add_panel(col_left[6], facet_top[0], CELL, facet_top[1] + FACET_H - facet_top[0])
top = max(counts)
bar_lim = (-0.05 * top, 1.05 * top)
bar_ticks = list(np.arange(0, top + 0.01, top / 4.0))
frame(ax, (0.4, 2.6), [1, 2], [], bar_lim, bar_ticks, minors(bar_ticks, bar_lim))
ax.bar([1, 2], counts, width=0.9, color=class_colors, zorder=3)
show_x(ax, classes)

# column headers and row labels
for j, name in enumerate(variables + ["classification"]):
    fig.text((col_left[j] + CELL / 2) / PX, 1 - 441.6 / PX, name, rotation=90,
             ha="center", va="bottom", fontsize=38, fontweight="bold", color="black")
for i, name in enumerate(variables):
    fig.text(2342 / PX, 1 - (row_top[i] + CELL / 2) / PX, name,
             ha="left", va="center", fontsize=38, fontweight="bold", color="black")
fig.text(2342 / PX, 1 - 2310 / PX, "classification",
         ha="left", va="center", fontsize=38, fontweight="bold", color="black")

fig.savefig("out.png", dpi=100, facecolor="white")
